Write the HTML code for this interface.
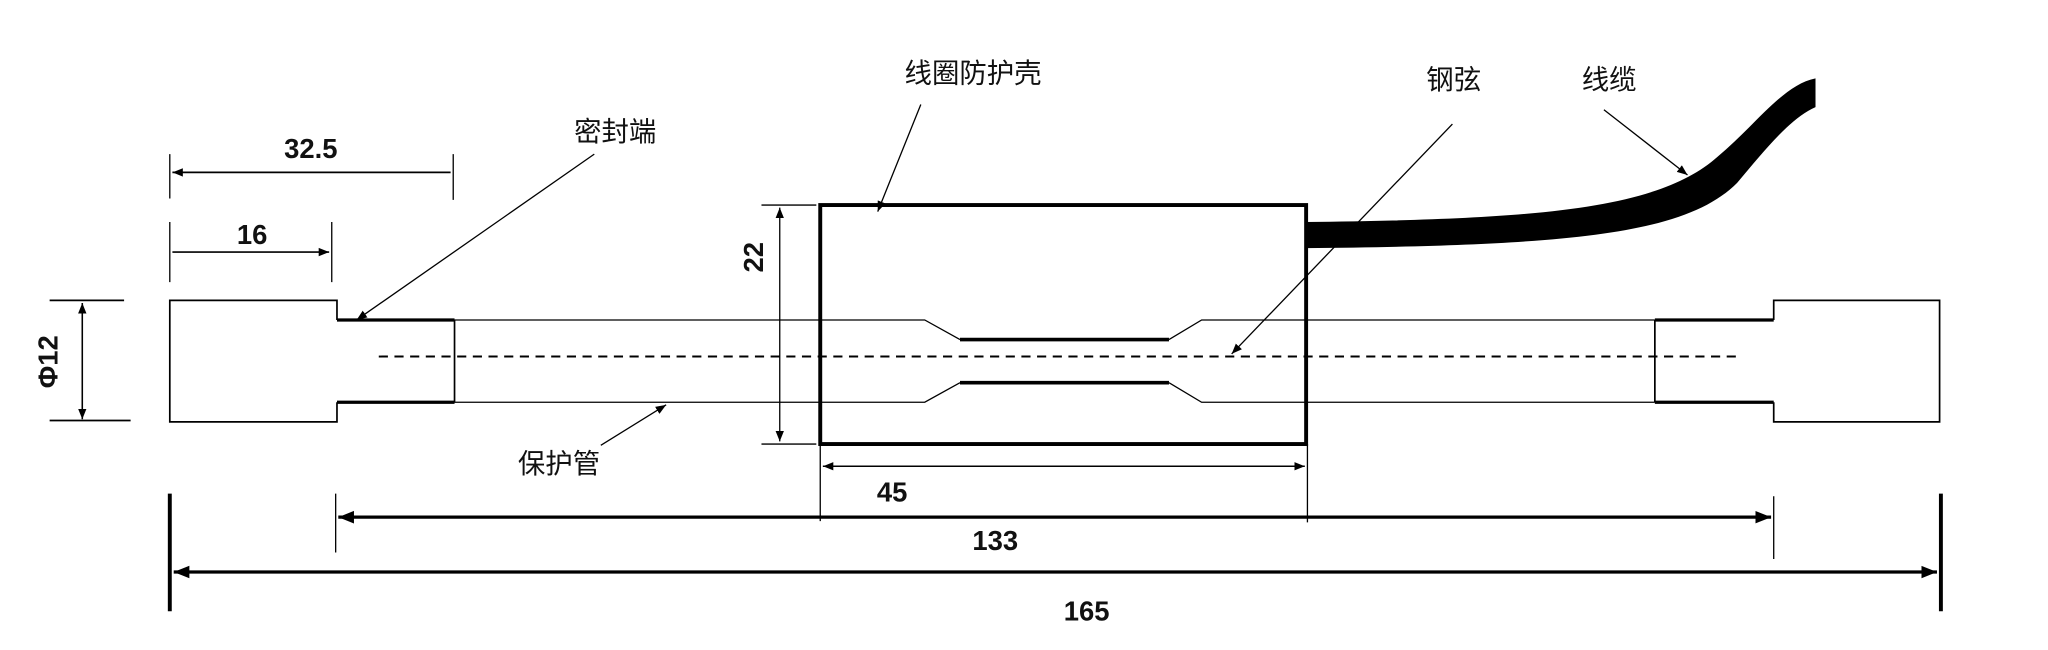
<!DOCTYPE html>
<html><head><meta charset="utf-8"><style>html,body{margin:0;padding:0;background:#fff;}svg{display:block}</style></head>
<body>
<svg width="2048" height="650" viewBox="0 0 1568 497.7" preserveAspectRatio="none" xmlns="http://www.w3.org/2000/svg">
<defs>
<marker id="a" viewBox="0 0 10 10" refX="10" refY="5" markerWidth="8" markerHeight="8" orient="auto-start-reverse" markerUnits="userSpaceOnUse"><path d="M0,1 L10,5 L0,9 z" fill="#000"/></marker>
<marker id="b" viewBox="0 0 10 10" refX="10" refY="5" markerWidth="12" markerHeight="12" orient="auto-start-reverse" markerUnits="userSpaceOnUse"><path d="M0,1 L10,5 L0,9 z" fill="#000"/></marker>
</defs>
<g fill="none" stroke="#000">
<!-- left block -->
<path d="M258,245 V230 H130 V323 H258 V308" stroke-width="1.3"/>
<path d="M258,245 H348 M258,308 H348" stroke-width="2.5"/>
<path d="M348,245 V308" stroke-width="1.3"/>
<!-- tube -->
<path d="M348,245 H708 L735,260 M348,308 H708 L735,293" stroke-width="1"/>
<path d="M735,260 H895 M735,293 H895" stroke-width="2.8"/>
<path d="M895,260 L920,245 H1267 M895,293 L920,308 H1267" stroke-width="1"/>
<path d="M1267,245 V308" stroke-width="1.3"/>
<path d="M1267,245 H1358 M1267,308 H1358" stroke-width="2.5"/>
<path d="M1358,245 V230 H1485 V323 H1358 V308" stroke-width="1.3"/>
<path d="M290,273 H1333" stroke-width="1.5" stroke-dasharray="7,5"/>
<!-- box -->
<rect x="628" y="157" width="372" height="183" stroke-width="3"/>
<!-- cable -->
<path d="M1000,170 C1180,168 1270,160 1315,120 C1345,95 1365,65 1390,60 L1390,82 C1372,90 1355,110 1330,140 C1290,180 1200,188 1000,190 Z" fill="#000" stroke="none"/>
<!-- dims -->
<path d="M130,118 V152 M347,118 V153 M130,170 V216 M254,170 V216" stroke-width="1"/>
<path d="M132,132 H345 M132,193 H252" stroke-width="1.3" marker-start="url(#a)" marker-end="url(#a)"/>
<path d="M38,230 H95 M38,322 H100" stroke-width="1.3"/>
<path d="M63,232 V321" stroke-width="1.2" marker-start="url(#a)" marker-end="url(#a)"/>
<path d="M583,157 H625 M583,340 H625" stroke-width="1"/>
<path d="M597,159 V338" stroke-width="1" marker-start="url(#a)" marker-end="url(#a)"/>
<path d="M628,340 V399 M1001,340 V400" stroke-width="1"/>
<path d="M630,357 H999" stroke-width="1.2" marker-start="url(#a)" marker-end="url(#a)"/>
<path d="M257,378 V423 M1358,380 V428" stroke-width="1"/>
<path d="M259,396 H1356" stroke-width="2.5" marker-start="url(#b)" marker-end="url(#b)"/>
<path d="M130,378 V468 M1486,378 V468" stroke-width="3"/>
<path d="M133,438 H1483" stroke-width="2.5" marker-start="url(#b)" marker-end="url(#b)"/>
<!-- leaders -->
<path d="M455,118 L273,245" stroke-width="1" marker-end="url(#a)"/>
<path d="M705,80 L672,162" stroke-width="1" marker-end="url(#a)"/>
<path d="M1112,95 L943,271" stroke-width="1" marker-end="url(#a)"/>
<path d="M1228,84 L1292,134" stroke-width="1" marker-end="url(#a)"/>
<path d="M460,341 L510,310" stroke-width="1" marker-end="url(#a)"/>
</g>
<g font-family="Liberation Sans, sans-serif" font-weight="bold" font-size="21" fill="#111" text-anchor="middle">
<text x="238" y="121">32.5</text>
<text x="193" y="187">16</text>
<text x="683" y="384">45</text>
<text x="762" y="421">133</text>
<text x="832" y="475">165</text>
<text transform="translate(44,277) rotate(-90)">Φ12</text>
<text transform="translate(584,197) rotate(-90)">22</text>
</g>
<g font-family="Liberation Sans, Noto Sans CJK SC, sans-serif" font-size="21" fill="#111" text-anchor="middle">
<text x="471" y="108">密封端</text>
<text x="745" y="63">线圈防护壳</text>
<text x="1113" y="68">钢弦</text>
<text x="1232" y="68">线缆</text>
<text x="428" y="362">保护管</text>
</g>
</svg>
</body></html>
